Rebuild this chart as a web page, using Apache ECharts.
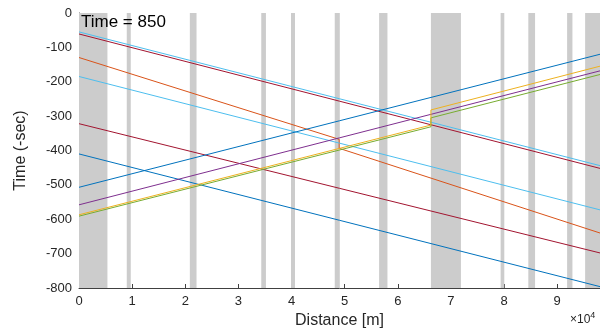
<!DOCTYPE html>
<html>
<head>
<meta charset="utf-8">
<script src="https://cdn.jsdelivr.net/npm/echarts@6/dist/echarts.min.js"></script>
<style>
  html, body { margin: 0; padding: 0; background: #fff; }
  #chart { width: 600px; height: 329px; }
</style>
</head>
<body>
<div id="chart"></div>
<script>
// Distance range of the track [m]
const distMin = 0;
const distMax = 98050;

// Station / platform zones along the track [m]
const zoneStart = [0, 8990, 20860, 34300, 39900, 48130, 56480, 66230, 79350, 84560, 91860, 95250];
const zoneEnd   = [5350, 9740, 22120, 35180, 40650, 49080, 58050, 71880, 80040, 85830, 92860, 98050];

// Train paths: [distance m, time s]
const down1 = [[0, -55], [98050, -444]];
const down2 = [[0, -61], [98050, -452]];
const down3 = [[0, -129.5], [48960, -367.5], [48960, -393.6], [98050, -640]];
const down4 = [[0, -184.7], [98050, -572.7]];
const down5 = [[0, -322], [98050, -698]];
const down6 = [[0, -410], [98050, -796]];
const up1 = [[0, -507], [98050, -120]];
const up2 = [[0, -558], [98050, -168.3]];
const up3 = [[0, -587], [66230, -326], [66230, -282], [98050, -154.7]];
const up4 = [[0, -591], [66230, -331], [66230, -305], [98050, -178.9]];

// Axis ticks
const timeTicks = [0, -100, -200, -300, -400, -500, -600, -700, -800];
const titleText = 'Time = 850';

const chart = echarts.init(document.getElementById('chart'), null, { renderer: 'canvas' });

const zones = zoneStart.map((s, i) => [{ xAxis: s }, { xAxis: zoneEnd[i] }]);

function path(data, color) {
  return {
    type: 'line',
    data: data,
    symbol: 'none',
    silent: true,
    animation: false,
    lineStyle: { color: color, width: 1 },
    z: 3
  };
}

const axisColor = '#262626';

chart.setOption({
  animation: false,
  backgroundColor: '#ffffff',
  grid: { left: 79, right: 0, top: 13, bottom: 41, containLabel: false, outerBoundsMode: 'none' },
  xAxis: {
    type: 'value',
    min: distMin,
    max: distMax,
    interval: 10000,
    name: 'Distance [m]',
    nameLocation: 'middle',
    nameGap: 25,
    nameTextStyle: { fontFamily: 'Liberation Sans', fontSize: 16, color: axisColor },
    axisLine: { show: true, onZero: false, lineStyle: { color: '#404040', width: 1 } },
    axisTick: { show: true, inside: true, length: 4, lineStyle: { color: '#404040' } },
    axisLabel: {
      showMaxLabel: false,
      margin: 7,
      fontFamily: 'Liberation Sans',
      fontSize: 13,
      color: axisColor,
      formatter: v => String(Math.round(v / 1e4))
    },
    splitLine: { show: false }
  },
  yAxis: {
    type: 'value',
    min: timeTicks[timeTicks.length - 1],
    max: timeTicks[0],
    interval: 100,
    name: 'Time (-sec)',
    nameLocation: 'middle',
    nameGap: 50,
    nameTextStyle: { fontFamily: 'Liberation Sans', fontSize: 16, color: axisColor },
    axisLine: { show: true, onZero: false, lineStyle: { color: '#404040', width: 1 } },
    axisTick: { show: true, inside: true, length: 4, lineStyle: { color: '#404040' } },
    axisLabel: { margin: 7, fontFamily: 'Liberation Sans', fontSize: 13, color: axisColor },
    splitLine: { show: false }
  },
  series: [
    {
      type: 'line',
      data: [],
      silent: true,
      markArea: {
        silent: true,
        itemStyle: { color: '#cccccc' },
        data: zones
      },
      z: 1
    },
    path(down1, '#4DBEEE'),
    path(down2, '#A2142F'),
    path(down3, '#D95319'),
    path(down4, '#4DBEEE'),
    path(down5, '#A2142F'),
    path(down6, '#0072BD'),
    path(up1, '#0072BD'),
    path(up2, '#7E2F8E'),
    path(up4, '#77AC30'),
    path(up3, '#EDB120')
  ],
  graphic: [
    {
      type: 'text',
      left: 81,
      top: 14,
      z: 10,
      style: { text: titleText, fontFamily: 'Liberation Sans', fontSize: 17, fill: '#000' }
    },
    {
      type: 'text',
      left: 570,
      top: 311,
      z: 10,
      style: {
        text: '{a|×10}{b|4}',
        rich: {
          a: { fontFamily: 'Liberation Sans', fontSize: 12, fill: axisColor, verticalAlign: 'bottom' },
          b: { fontFamily: 'Liberation Sans', fontSize: 9, fill: axisColor, verticalAlign: 'top', padding: [0, 0, 6, 0] }
        }
      }
    }
  ]
});
</script>
</body>
</html>
